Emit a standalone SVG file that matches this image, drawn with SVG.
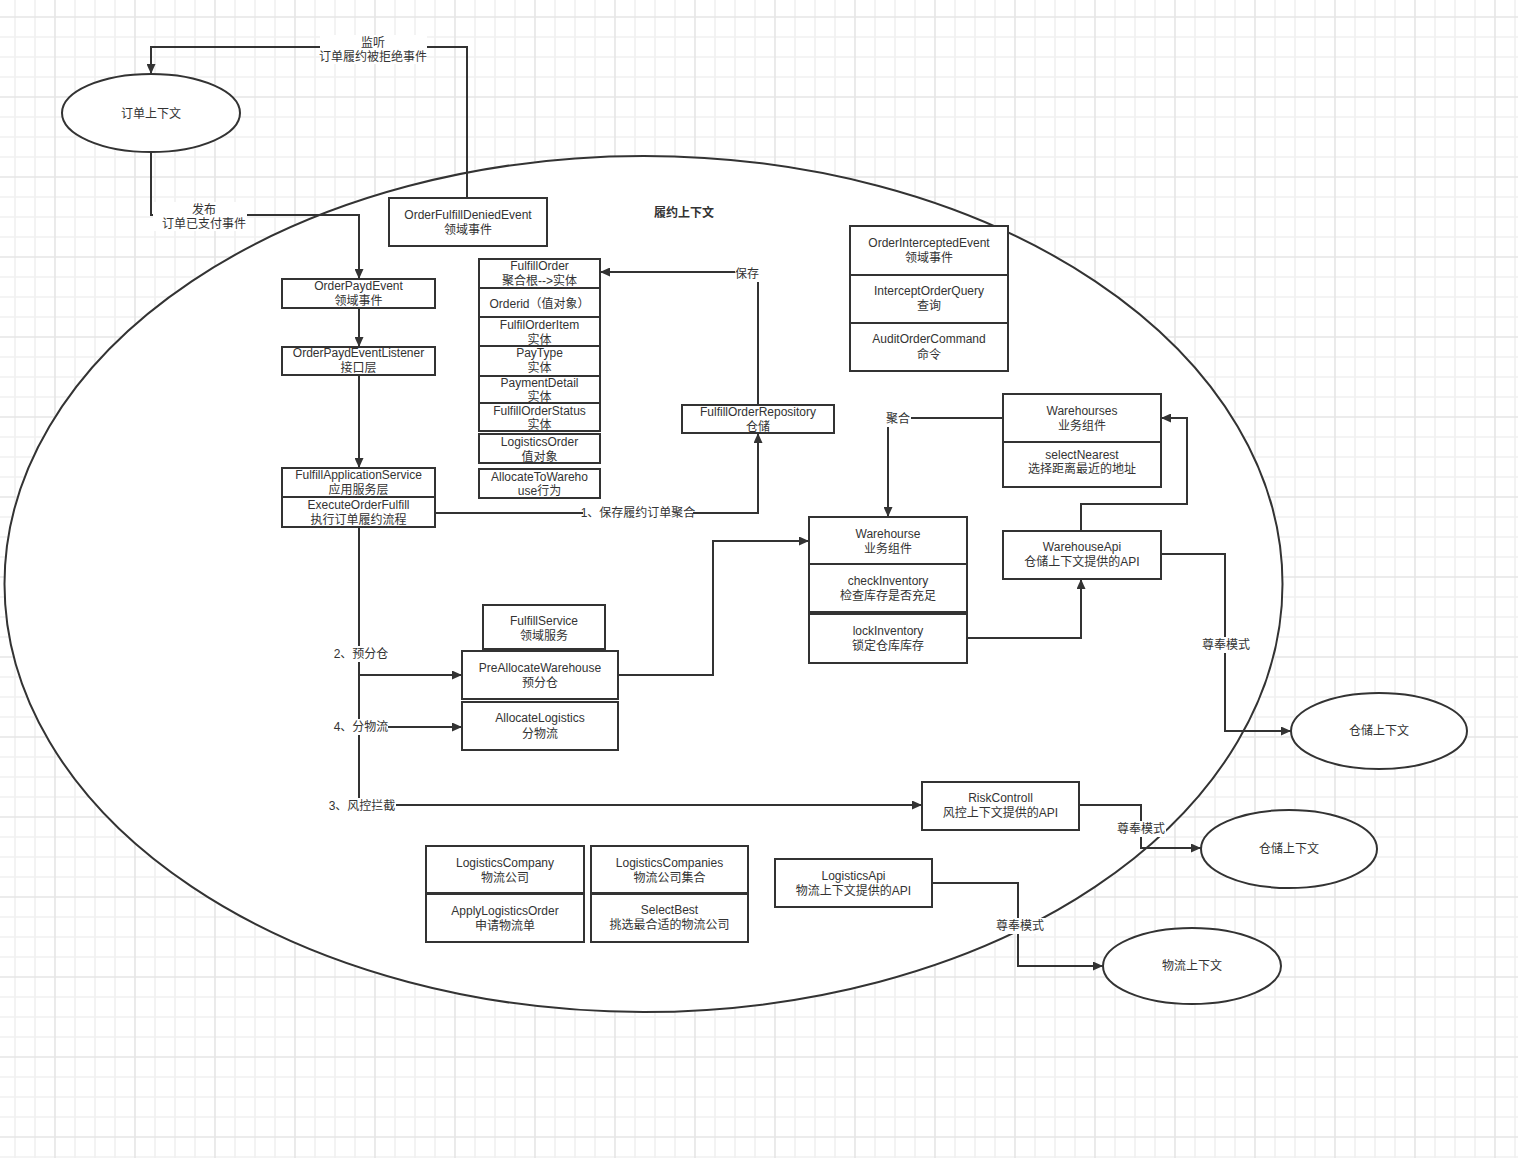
<svg xmlns="http://www.w3.org/2000/svg" width="1518" height="1158" viewBox="0 0 1518 1158">
<defs>
<pattern id="grid" patternUnits="userSpaceOnUse" x="45" y="7" width="80" height="80">
<rect width="80" height="80" fill="#ffffff"/>
<path d="M30,0V80M50,0V80M70,0V80M0,30H80M0,50H80M0,70H80" stroke="#f1f1f1" stroke-width="1.6" fill="none"/>
<path d="M10,0V80M0,10H80" stroke="#e6e6e6" stroke-width="1.6" fill="none"/>
</pattern>
<marker id="arr" markerUnits="userSpaceOnUse" markerWidth="11" markerHeight="9" refX="10" refY="4.5" orient="auto">
<path d="M0,0 L10,4.5 L0,9 z" fill="#333333"/>
</marker>
<style>
text{font-family:"Liberation Sans","Noto Sans CJK SC",sans-serif;font-size:12px;fill:#333333;text-anchor:middle}
.b{fill:#ffffff;stroke:#333333;stroke-width:2}
.e{fill:#ffffff;stroke:#333333;stroke-width:2}
.c{fill:none;stroke:#333333;stroke-width:2}
.bg{fill:#ffffff}
.t{font-weight:bold}
</style>
</defs>
<rect width="1518" height="1158" fill="url(#grid)"/>

<g id="fulfill-context">
<ellipse class="e" cx="643.5" cy="584" rx="639" ry="428"/>
<text class="t" x="684" y="217">履约上下文</text>
</g>

<g id="order-context">
<ellipse class="e" cx="151" cy="113" rx="89" ry="39"/>
<text x="151" y="118">订单上下文</text>
</g>

<g id="connectors">
<path class="c" d="M467,198 V47 H151 V74" marker-end="url(#arr)"/>
<path class="c" d="M151,152 V215 H359 V279" marker-end="url(#arr)"/>
<path class="c" d="M359,308 V347" marker-end="url(#arr)"/>
<path class="c" d="M359,375 V468" marker-end="url(#arr)"/>
<path class="c" d="M435,513 H758 V433" marker-end="url(#arr)"/>
<path class="c" d="M758,405 V272 H600" marker-end="url(#arr)"/>
<path class="c" d="M359,527 V805 H922" marker-end="url(#arr)"/>
<path class="c" d="M359,675 H462" marker-end="url(#arr)"/>
<path class="c" d="M359,727 H462" marker-end="url(#arr)"/>
<path class="c" d="M618,675 H713 V541 H809" marker-end="url(#arr)"/>
<path class="c" d="M1003,418 H888 V517" marker-end="url(#arr)"/>
<path class="c" d="M967,638 H1081 V579" marker-end="url(#arr)"/>
<path class="c" d="M1081,531 V504 H1187 V418 H1161" marker-end="url(#arr)"/>
<path class="c" d="M1161,554 H1225 V731 H1291" marker-end="url(#arr)"/>
<path class="c" d="M1079,805 H1141 V848 H1201" marker-end="url(#arr)"/>
<path class="c" d="M932,883 H1018 V966 H1103" marker-end="url(#arr)"/>
<rect class="bg" x="320" y="35" width="107" height="29"/>
<text x="373" y="47">监听</text>
<text x="373" y="61">订单履约被拒绝事件</text>
<rect class="bg" x="153" y="202" width="94" height="29"/>
<text x="204" y="214">发布</text>
<text x="204" y="228">订单已支付事件</text>
<rect class="bg" x="735" y="266" width="25" height="16"/>
<text x="747" y="278">保存</text>
<rect class="bg" x="583" y="505" width="110" height="16"/>
<text x="638" y="517">1、保存履约订单聚合</text>
<rect class="bg" x="885" y="411" width="26" height="16"/>
<text x="898" y="423">聚合</text>
<rect class="bg" x="1201" y="637" width="50" height="16"/>
<text x="1226" y="649">尊奉模式</text>
<rect class="bg" x="1116" y="821" width="50" height="16"/>
<text x="1141" y="833">尊奉模式</text>
<rect class="bg" x="995" y="918" width="50" height="16"/>
<text x="1020" y="930">尊奉模式</text>
<rect class="bg" x="334" y="646" width="54" height="16"/>
<text x="361" y="658">2、预分仓</text>
<rect class="bg" x="334" y="719" width="54" height="16"/>
<text x="361" y="731">4、分物流</text>
<rect class="bg" x="328" y="798" width="68" height="16"/>
<text x="362" y="810">3、风控拦截</text>
</g>

<g id="OrderFulfillDeniedEvent">
<rect class="b" x="389" y="198" width="158" height="48"/>
<text x="468" y="219">OrderFulfillDeniedEvent</text>
<text x="468" y="234">领域事件</text>
</g>

<g id="OrderPaydEvent">
<rect class="b" x="282" y="279" width="153" height="29"/>
<text x="358.5" y="290">OrderPaydEvent</text>
<text x="358.5" y="305">领域事件</text>
</g>

<g id="OrderPaydEventListener">
<rect class="b" x="282" y="347" width="153" height="28"/>
<text x="358.5" y="357">OrderPaydEventListener</text>
<text x="358.5" y="372">接口层</text>
</g>

<g id="FulfillApplicationService">
<rect class="b" x="282" y="468" width="153" height="29"/>
<text x="358.5" y="479">FulfillApplicationService</text>
<text x="358.5" y="494">应用服务层</text>
<rect class="b" x="282" y="497" width="153" height="30"/>
<text x="358.5" y="509">ExecuteOrderFulfill</text>
<text x="358.5" y="524">执行订单履约流程</text>
</g>

<g id="FulfillOrder">
<rect class="b" x="479" y="259" width="121" height="29"/>
<text x="539.5" y="270">FulfillOrder</text>
<text x="539.5" y="285">聚合根--&gt;实体</text>
<rect class="b" x="479" y="288" width="121" height="29"/>
<text x="539.5" y="308">Orderid（值对象）</text>
<rect class="b" x="479" y="317" width="121" height="29"/>
<text x="539.5" y="329">FulfilOrderItem</text>
<text x="539.5" y="344">实体</text>
<rect class="b" x="479" y="346" width="121" height="30"/>
<text x="539.5" y="357">PayType</text>
<text x="539.5" y="372">实体</text>
<rect class="b" x="479" y="376" width="121" height="27"/>
<text x="539.5" y="387">PaymentDetail</text>
<text x="539.5" y="401">实体</text>
<rect class="b" x="479" y="403" width="121" height="28"/>
<text x="539.5" y="415">FulfillOrderStatus</text>
<text x="539.5" y="429">实体</text>
<rect class="b" x="479" y="434" width="121" height="29"/>
<text x="539.5" y="446">LogisticsOrder</text>
<text x="539.5" y="461">值对象</text>
</g>

<g id="AllocateToWarehouse">
<rect class="b" x="479" y="469" width="121" height="29"/>
<text x="539.5" y="481">AllocateToWareho</text>
<text x="539.5" y="495">use行为</text>
</g>

<g id="FulfillOrderRepository">
<rect class="b" x="682" y="405" width="152" height="28"/>
<text x="758" y="416">FulfillOrderRepository</text>
<text x="758" y="431">仓储</text>
</g>

<g id="OrderInterceptedEvent">
<rect class="b" x="850" y="226" width="158" height="49"/>
<text x="929" y="247">OrderInterceptedEvent</text>
<text x="929" y="262">领域事件</text>
<rect class="b" x="850" y="275" width="158" height="48"/>
<text x="929" y="295">InterceptOrderQuery</text>
<text x="929" y="310">查询</text>
<rect class="b" x="850" y="323" width="158" height="48"/>
<text x="929" y="343">AuditOrderCommand</text>
<text x="929" y="359">命令</text>
</g>

<g id="Warehourses">
<rect class="b" x="1003" y="394" width="158" height="48"/>
<text x="1082" y="415">Warehourses</text>
<text x="1082" y="430">业务组件</text>
<rect class="b" x="1003" y="442" width="158" height="45"/>
<text x="1082" y="459">selectNearest</text>
<text x="1082" y="473">选择距离最近的地址</text>
</g>

<g id="Warehourse">
<rect class="b" x="809" y="517" width="158" height="47"/>
<text x="888" y="538">Warehourse</text>
<text x="888" y="553">业务组件</text>
<rect class="b" x="809" y="564" width="158" height="48"/>
<text x="888" y="585">checkInventory</text>
<text x="888" y="600">检查库存是否充足</text>
<rect class="b" x="809" y="614" width="158" height="49"/>
<text x="888" y="635">lockInventory</text>
<text x="888" y="650">锁定仓库库存</text>
</g>

<g id="WarehouseApi">
<rect class="b" x="1003" y="531" width="158" height="48"/>
<text x="1082" y="551">WarehouseApi</text>
<text x="1082" y="566">仓储上下文提供的API</text>
</g>

<g id="FulfillService">
<rect class="b" x="483" y="605" width="122" height="44"/>
<text x="544" y="625">FulfillService</text>
<text x="544" y="640">领域服务</text>
</g>

<g id="PreAllocateWarehouse">
<rect class="b" x="462" y="651" width="156" height="48"/>
<text x="540" y="672">PreAllocateWarehouse</text>
<text x="540" y="687">预分仓</text>
</g>

<g id="AllocateLogistics">
<rect class="b" x="462" y="702" width="156" height="48"/>
<text x="540" y="722">AllocateLogistics</text>
<text x="540" y="738">分物流</text>
</g>

<g id="RiskControll">
<rect class="b" x="922" y="782" width="157" height="48"/>
<text x="1000.5" y="802">RiskControll</text>
<text x="1000.5" y="817">风控上下文提供的API</text>
</g>

<g id="LogisticsCompany">
<rect class="b" x="426" y="846" width="158" height="47"/>
<text x="505" y="867">LogisticsCompany</text>
<text x="505" y="882">物流公司</text>
<rect class="b" x="426" y="894" width="158" height="48"/>
<text x="505" y="915">ApplyLogisticsOrder</text>
<text x="505" y="930">申请物流单</text>
</g>

<g id="LogisticsCompanies">
<rect class="b" x="591" y="846" width="157" height="47"/>
<text x="669.5" y="867">LogisticsCompanies</text>
<text x="669.5" y="882">物流公司集合</text>
<rect class="b" x="591" y="894" width="157" height="48"/>
<text x="669.5" y="914">SelectBest</text>
<text x="669.5" y="929">挑选最合适的物流公司</text>
</g>

<g id="LogisticsApi">
<rect class="b" x="775" y="859" width="157" height="48"/>
<text x="853.5" y="880">LogisticsApi</text>
<text x="853.5" y="895">物流上下文提供的API</text>
</g>

<g id="warehouse-context-1">
<ellipse class="e" cx="1379" cy="731" rx="88" ry="38"/>
<text x="1379" y="735">仓储上下文</text>
</g>

<g id="warehouse-context-2">
<ellipse class="e" cx="1289" cy="849" rx="88" ry="39"/>
<text x="1289" y="853">仓储上下文</text>
</g>

<g id="logistics-context">
<ellipse class="e" cx="1192" cy="966" rx="89" ry="38"/>
<text x="1192" y="970">物流上下文</text>
</g>
</svg>
